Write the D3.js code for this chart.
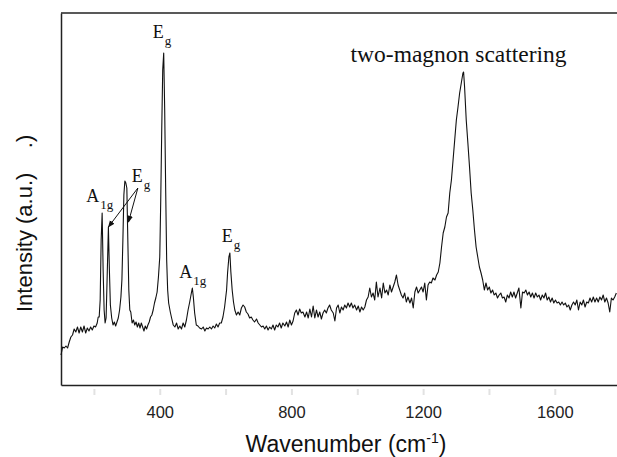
<!DOCTYPE html>
<html>
<head>
<meta charset="utf-8">
<script src="https://cdn.jsdelivr.net/npm/d3@7"></script>
<style>
  body { margin: 0; background: #fff; }
  svg { display: block; }
</style>
</head>
<body>
<div id="chart"></div>
<script>
// Raman spectrum (intensity in arbitrary units)
const wavenumber = [
  100, 105, 110, 115, 120, 125, 130, 135, 140, 145,
  150, 155, 160, 165, 170, 175, 180, 185, 190, 195,
  200, 205, 210, 213, 216, 219, 222, 225, 228, 231,
  234, 237, 240, 244, 247, 250, 254, 258, 262, 266,
  270, 274, 278, 282, 285, 288, 291, 294, 297, 300,
  303, 306, 309, 312, 316, 320, 324, 328, 332, 336,
  340, 344, 348, 352, 356, 360, 364, 368, 372, 376,
  380, 384, 388, 392, 396, 400, 403, 406, 409, 412,
  415, 418, 421, 424, 427, 432, 436, 441, 446, 451,
  456, 461, 466, 471, 476, 481, 486, 491, 496, 499,
  502, 506, 511, 516, 521, 527, 532, 537, 542, 547,
  552, 557, 562, 567, 572, 577, 582, 587, 592, 597,
  603, 606, 610, 613, 616, 620, 624, 628, 633, 638,
  643, 648, 653, 658, 663, 668, 673, 678, 683, 688,
  694, 699, 704, 709, 714, 719, 724, 729, 734, 739,
  744, 749, 754, 759, 764, 769, 774, 780, 785, 790,
  795, 800, 805, 810, 815, 820, 825, 830, 835, 841,
  846, 851, 856, 861, 866, 871, 876, 881, 886, 891,
  896, 901, 906, 911, 916, 921, 927, 932, 937, 942,
  947, 952, 957, 962, 967, 972, 977, 982, 987, 992,
  998, 1003, 1008, 1013, 1018, 1023, 1028, 1033, 1038, 1043,
  1048, 1053, 1058, 1063, 1069, 1074, 1079, 1084, 1089, 1094,
  1099, 1104, 1109, 1114, 1119, 1124, 1129, 1134, 1139, 1144,
  1149, 1154, 1160, 1165, 1170, 1175, 1180, 1185, 1190, 1195,
  1200, 1205, 1210, 1215, 1220, 1225, 1230, 1236, 1241, 1246,
  1251, 1256, 1261, 1266, 1271, 1276, 1281, 1286, 1291, 1296,
  1301, 1306, 1311, 1316, 1321, 1323, 1326, 1331, 1336, 1341,
  1346, 1351, 1356, 1361, 1366, 1371, 1376, 1381, 1386, 1391,
  1396, 1401, 1406, 1411, 1416, 1421, 1426, 1431, 1436, 1441,
  1446, 1451, 1456, 1461, 1466, 1471, 1476, 1481, 1486, 1491,
  1497, 1502, 1507, 1512, 1517, 1522, 1527, 1532, 1537, 1542,
  1547, 1552, 1557, 1562, 1567, 1572, 1577, 1582, 1587, 1592,
  1597, 1602, 1607, 1612, 1617, 1622, 1627, 1632, 1637, 1642,
  1647, 1652, 1657, 1662, 1667, 1672, 1677, 1682, 1687, 1692,
  1697, 1702, 1707, 1712, 1717, 1722, 1727, 1732, 1737, 1742,
  1747, 1752, 1757, 1762, 1767, 1772, 1777, 1782, 1787
];

const intensity = [
  30, 38, 37, 39, 37, 43, 48, 50, 56, 53,
  58, 52, 58, 53, 59, 52, 57, 54, 58, 55,
  59, 58, 62, 68, 68, 85, 145, 172, 115, 75,
  62, 67, 105, 158, 115, 80, 67, 60, 63, 59,
  63, 67, 75, 88, 105, 145, 190, 204, 202, 197,
  145, 95, 75, 73, 62, 65, 60, 63, 58, 62,
  57, 62, 58, 54, 59, 56, 60, 63, 68, 70,
  75, 82, 87, 93, 108, 128, 185, 255, 315, 332,
  275, 195, 125, 95, 82, 73, 67, 60, 58, 62,
  56, 59, 56, 62, 58, 65, 75, 83, 92, 97,
  88, 72, 60, 59, 57, 56, 58, 54, 57, 56,
  58, 56, 59, 57, 61, 58, 62, 62, 68, 78,
  95, 112, 128, 132, 113, 95, 83, 75, 70, 73,
  70, 77, 80, 78, 73, 71, 67, 68, 65, 63,
  66, 62, 60, 58, 59, 56, 59, 55, 58, 56,
  60, 55, 60, 58, 62, 57, 62, 59, 63, 58,
  65, 60, 64, 72, 75, 70, 76, 72, 73, 68,
  73, 67, 76, 68, 79, 67, 75, 68, 73, 66,
  72, 75, 72, 77, 80, 75, 72, 64, 77, 80,
  72, 78, 75, 80, 77, 82, 78, 82, 77, 80,
  75, 79, 73, 78, 75, 78, 85, 88, 97, 88,
  92, 85, 103, 88, 97, 87, 102, 92, 95, 90,
  100, 93, 98, 103, 110, 100, 95, 90, 87, 92,
  83, 88, 82, 87, 77, 93, 98, 92, 95, 98,
  93, 102, 85, 100, 103, 102, 107, 105, 110, 113,
  122, 138, 152, 158, 168, 172, 192, 205, 225, 245,
  265, 278, 292, 302, 312, 313, 298, 265, 242, 218,
  192, 175, 155, 138, 128, 118, 112, 105, 95, 102,
  95, 98, 92, 95, 90, 92, 87, 90, 92, 87,
  88, 83, 90, 87, 93, 88, 93, 87, 92, 97,
  77, 93, 92, 95, 90, 93, 88, 92, 87, 92,
  88, 90, 85, 90, 87, 92, 85, 88, 83, 87,
  82, 85, 82, 83, 80, 83, 80, 82, 78, 80,
  75, 80, 83, 80, 85, 75, 83, 80, 85, 78,
  83, 82, 87, 83, 88, 83, 87, 83, 88, 85,
  90, 83, 87, 82, 73, 87, 85, 88, 92
];

const xTicks = [200, 400, 600, 800, 1000, 1200, 1400, 1600];
const xTickLabels = [400, 800, 1200, 1600];

// phonon modes labelled on the spectrum
const modeNames = ['A', 'E', 'E', 'A', 'E'];
const modeSubs = ['1g', 'g', 'g', '1g', 'g'];
const modePeaks = [225, 294, 412, 499, 613];
// the second E_g label points at these two lines
const arrowPeaks = [244, 305];

const width = 617;
const height = 457;
const margin = { top: 13, right: 0, bottom: 72, left: 61 };

const serif = '"Liberation Serif", "Times New Roman", serif';
const sans = '"Liberation Sans", Arial, sans-serif';

const svg = d3.select('#chart').append('svg')
  .attr('width', width)
  .attr('height', height);

const x = d3.scaleLinear()
  .domain([100, 1789])
  .range([margin.left, width - margin.right]);

const y = d3.scaleLinear()
  .domain([0, 372])
  .range([height - margin.bottom, margin.top]);

const spectrum = wavenumber.map((w, i) => ({ w, v: intensity[i] }));
const at = w => spectrum.find(d => d.w === w) || { w, v: 163 };

svg.append('defs')
  .append('marker')
  .attr('id', 'head')
  .attr('viewBox', '0 0 10 10')
  .attr('refX', 9)
  .attr('refY', 5)
  .attr('markerWidth', 7)
  .attr('markerHeight', 7)
  .attr('markerUnits', 'userSpaceOnUse')
  .attr('orient', 'auto')
  .append('path')
  .attr('d', 'M0,1 L10,5 L0,9 z')
  .attr('fill', '#111');

// x axis with faint ticks, labels on every other one
const xAxis = d3.axisBottom(x)
  .tickValues(xTicks)
  .tickSizeInner(10)
  .tickSizeOuter(0)
  .tickPadding(11)
  .tickFormat(d => (xTickLabels.includes(d) ? d : ''));

const gx = svg.append('g')
  .attr('transform', `translate(0, ${y(0)})`)
  .call(xAxis);

gx.select('.domain')
  .attr('stroke', '#222')
  .attr('stroke-width', 1.5);

gx.selectAll('.tick line')
  .attr('y1', 4)
  .attr('stroke', '#e2e2e2')
  .attr('stroke-width', 2);

gx.selectAll('.tick text')
  .attr('font-family', sans)
  .attr('font-size', 16.5)
  .attr('fill', '#222');

const yAxis = d3.axisLeft(y).tickValues([]).tickSizeOuter(0);

svg.append('g')
  .attr('transform', `translate(${margin.left}, 0)`)
  .call(yAxis)
  .select('.domain')
  .attr('stroke', '#222')
  .attr('stroke-width', 1.5);

svg.append('line')
  .attr('x1', x.range()[0])
  .attr('x2', x.range()[1])
  .attr('y1', y.range()[1])
  .attr('y2', y.range()[1])
  .attr('stroke', '#222')
  .attr('stroke-width', 1.5);

const line = d3.line()
  .x(d => x(d.w))
  .y(d => y(d.v));

svg.append('path')
  .datum(spectrum)
  .attr('d', line)
  .attr('fill', 'none')
  .attr('stroke', '#111')
  .attr('stroke-width', 1.1)
  .attr('stroke-linejoin', 'round');

// mode labels: E / A with subscript
const labelShift = [[-16, -11], [7, 1], [-11, -15], [-13, -10], [-8, -11]];

modePeaks.forEach((p, i) => {
  const d = at(p);
  const lx = x(d.w) + labelShift[i][0];
  const ly = y(d.v) + labelShift[i][1];
  const t = svg.append('text')
    .attr('x', lx)
    .attr('y', ly)
    .attr('font-family', serif)
    .attr('font-size', 18)
    .attr('fill', '#111');
  t.append('tspan').text(modeNames[i]);
  t.append('tspan')
    .attr('font-size', 13)
    .attr('dx', 1)
    .attr('dy', 7)
    .text(modeSubs[i]);

  if (i === 1) {
    arrowPeaks.forEach(a => {
      const target = at(a);
      svg.append('line')
        .attr('x1', lx + 6)
        .attr('y1', ly + 6)
        .attr('x2', x(target.w))
        .attr('y2', y(target.v))
        .attr('stroke', '#111')
        .attr('stroke-width', 1)
        .attr('marker-end', 'url(#head)');
    });
  }
});

const magnon = at(1323);
svg.append('text')
  .attr('x', x(magnon.w) - 5)
  .attr('y', y(magnon.v) - 10)
  .attr('text-anchor', 'middle')
  .attr('font-family', serif)
  .attr('font-size', 23.5)
  .attr('fill', '#111')
  .text('two-magnon scattering');

// axis titles
const xTitle = svg.append('text')
  .attr('x', 346)
  .attr('y', 452)
  .attr('text-anchor', 'middle')
  .attr('font-family', sans)
  .attr('font-size', 23)
  .attr('fill', '#111');
xTitle.append('tspan').text('Wavenumber (cm');
xTitle.append('tspan').attr('font-size', 14).attr('dy', -9).text('-1');
xTitle.append('tspan').attr('dy', 9).text(')');

svg.append('text')
  .attr('transform', 'translate(32, 312) rotate(-90)')
  .attr('font-family', sans)
  .attr('font-size', 22)
  .attr('fill', '#111')
  .style('white-space', 'pre')
  .text('Intensity (a.u.)    .)');
</script>
</body>
</html>
